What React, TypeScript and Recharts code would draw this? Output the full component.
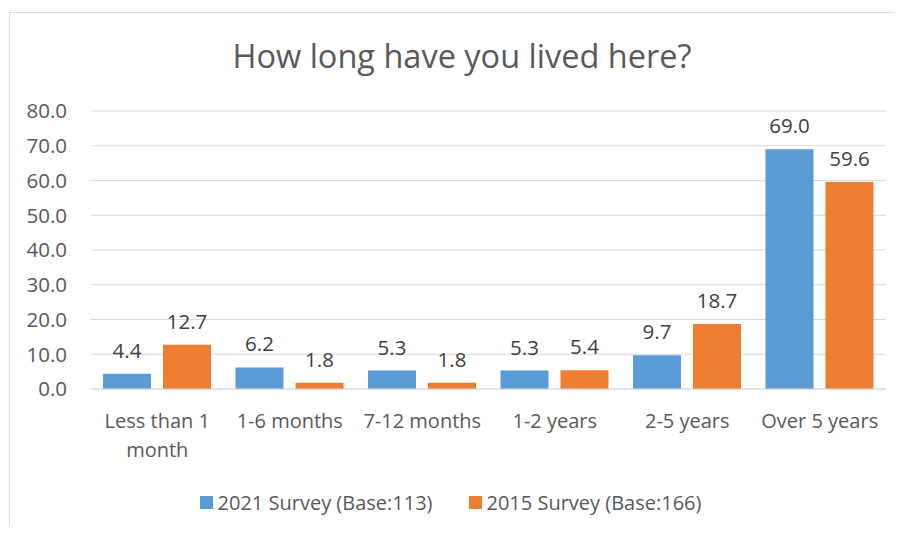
import { BarChart, Bar, XAxis, YAxis, CartesianGrid, LabelList } from "recharts";

const categories = ["Less than 1 month", "1-6 months", "7-12 months", "1-2 years", "2-5 years", "Over 5 years"];
const survey2021 = [4.4, 6.2, 5.3, 5.3, 9.7, 69.0];
const survey2015 = [12.7, 1.8, 1.8, 5.4, 18.7, 59.6];
const yTicks = [0, 10, 20, 30, 40, 50, 60, 70, 80];

const series = [
  { key: "s2021", name: "2021 Survey (Base:113)", color: "#5B9BD5" },
  { key: "s2015", name: "2015 Survey (Base:166)", color: "#ED7D31" },
];

const data = categories.map((c, i) => ({ cat: c, s2021: survey2021[i], s2015: survey2015[i] }));

const font = "'Open Sans', 'Noto Sans', sans-serif";
const grey = "#595959";

// greedy word wrap, roughly what excel does in a narrow category slot
function wrap(label: string, maxChars = 12) {
  const lines: string[] = [];
  let cur = "";
  for (const w of label.split(" ")) {
    const next = cur ? cur + " " + w : w;
    if (next.length > maxChars && cur) {
      lines.push(cur);
      cur = w;
    } else {
      cur = next;
    }
  }
  if (cur) lines.push(cur);
  return lines;
}

function CatTick(props: any) {
  const { x, y, payload } = props;
  const lines = wrap(String(payload.value));
  return (
    <text x={x} y={y} textAnchor="middle" fontSize={20} fontFamily={font} fill={grey}>
      {lines.map((l, i) => (
        <tspan key={i} x={x} dy={i === 0 ? 17 : 29}>
          {l}
        </tspan>
      ))}
    </text>
  );
}

export default function App() {
  return (
    <div style={{ position: "relative", width: 901, height: 533, margin: -8, overflow: "hidden", background: "#fff", fontFamily: font }}>
      <div style={{ position: "absolute", left: 9, top: 12, width: 920, height: 560, border: "1px solid #d9d9d9" }} />
      <div style={{ position: "absolute", left: 9, width: 906, top: 33, textAlign: "center", fontSize: 32.5, color: grey }}>
        How long have you lived here?
      </div>
      <div style={{ position: "absolute", left: 0, top: 0 }}>
        <BarChart
          width={901}
          height={533}
          data={data}
          margin={{ top: 111, right: 15, bottom: 74, left: 21 }}
          barCategoryGap={12}
          barGap={12}
        >
          <CartesianGrid vertical={false} stroke="#d9d9d9" />
          <XAxis
            dataKey="cat"
            tickLine={false}
            axisLine={{ stroke: "#d9d9d9" }}
            interval={0}
            height={70}
            tick={<CatTick />}
            tickMargin={16}
          />
          <YAxis
            domain={[0, 80]}
            ticks={yTicks}
            tickFormatter={(v: number) => v.toFixed(1)}
            axisLine={false}
            tickLine={false}
            width={70}
            tickMargin={18}
            tick={{ fontSize: 20.5, fill: grey, fontFamily: font }}
          />
          {series.map((s) => (
            <Bar key={s.key} dataKey={s.key} name={s.name} fill={s.color} isAnimationActive={false}>
              <LabelList
                dataKey={s.key}
                position="top"
                offset={16}
                formatter={(v: any) => Number(v).toFixed(1)}
                style={{ fontSize: 20.5, fill: "#404040", fontFamily: font }}
              />
            </Bar>
          ))}
        </BarChart>
      </div>
      <div style={{ position: "absolute", top: 489, left: 0, width: 901, display: "flex", justifyContent: "center", gap: 36, boxSizing: "border-box", fontSize: 20, color: grey }}>
        {series.map((s) => (
          <div key={s.key} style={{ display: "flex", alignItems: "center" }}>
            <span style={{ display: "inline-block", width: 13, height: 13, background: s.color, marginRight: 5 }} />
            {s.name}
          </div>
        ))}
      </div>
    </div>
  );
}
